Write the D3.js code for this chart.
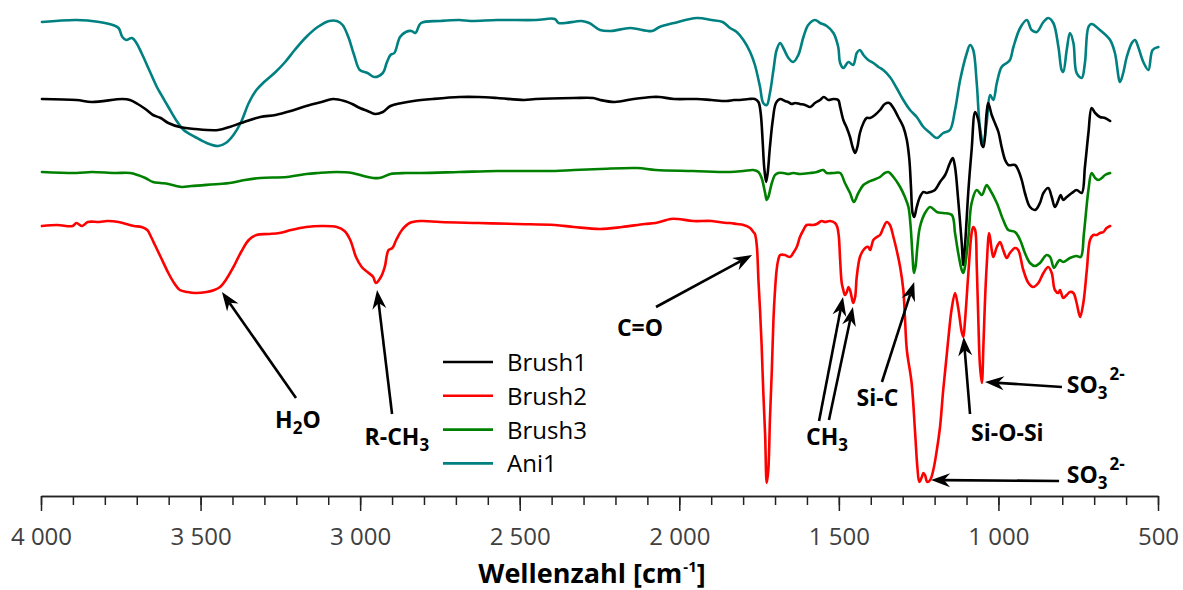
<!DOCTYPE html>
<html><head><meta charset="utf-8">
<script src="https://cdn.jsdelivr.net/npm/d3@7"></script>
<style>body{margin:0;background:#fff}svg{display:block}</style>
</head><body>
<svg id="chart" width="1183" height="590"></svg>
<script>
// ---- data: [wavenumber cm-1, transmittance (a.u., offset)] ----
const ani1 = [[3997,474],[3889,476],[3817,474],[3775,471],[3757,468],[3745,459],[3733,456],[3715,458],[3703,454],[3685,443],[3661,426],[3637,409],[3619,399],[3601,389],[3577,376],[3553,366],[3517,359],[3481,353],[3445,350],[3421,353],[3397,361],[3373,374],[3349,393],[3325,406],[3301,414],[3265,424],[3235,434],[3205,446],[3169,459],[3133,469],[3097,475],[3073,475],[3055,471],[3037,459],[3019,441],[3001,426],[2977,423],[2956,419],[2929,423],[2917,433],[2905,441],[2893,443],[2875,459],[2857,464],[2839,465],[2827,463],[2809,473],[2749,475],[2689,476],[2654,475],[2570,476],[2450,476],[2390,477],[2378,473],[2306,475],[2282,473],[2248,466],[2214,465],[2154,468],[2085,465],[2062,469],[2016,473],[1945,478],[1899,476],[1864,474],[1841,468],[1820,464],[1799,456],[1778,444],[1763,431],[1747,409],[1737,393],[1726,391],[1716,403],[1705,426],[1695,446],[1684,453],[1674,448],[1658,438],[1643,434],[1627,441],[1611,459],[1596,471],[1575,476],[1559,473],[1538,470],[1517,463],[1502,449],[1496,433],[1486,428],[1470,434],[1455,431],[1444,443],[1434,446],[1423,441],[1408,436],[1392,433],[1376,429],[1361,426],[1340,419],[1319,408],[1298,396],[1277,386],[1256,379],[1235,369],[1214,363],[1193,358],[1173,363],[1152,366],[1136,386],[1120,416],[1099,443],[1089,451],[1079,446],[1068,413],[1058,369],[1047,353],[1037,373],[1026,401],[1016,396],[1005,413],[990,429],[974,433],[964,436],[953,449],[932,468],[911,476],[896,466],[880,464],[859,474],[844,478],[828,473],[812,449],[802,426],[797,424],[786,446],[776,463],[765,453],[755,423],[739,418],[729,433],[718,469],[708,472],[682,466],[650,456],[635,443],[619,414],[609,423],[598,439],[582,453],[572,456],[562,449],[546,434],[530,426],[517,446],[499,449]];

const brush1 = [[3997,397],[3889,396],[3841,394],[3745,397],[3721,396],[3697,392],[3673,387],[3649,381],[3625,378],[3601,373],[3565,369],[3517,367],[3445,366],[3409,369],[3373,373],[3313,379],[3265,381],[3217,385],[3169,390],[3121,394],[3085,397],[3049,395],[3025,392],[3001,388],[2977,385],[2953,382],[2929,384],[2905,390],[2869,393],[2833,395],[2773,397],[2689,399],[2629,399],[2570,398],[2486,396],[2450,397],[2330,398],[2270,398],[2248,396],[2202,394],[2143,397],[2085,399],[2062,399],[2016,397],[1945,397],[1899,396],[1852,395],[1829,396],[1810,396],[1782,397],[1763,397],[1752,394],[1745,383],[1739,356],[1734,329],[1728,314],[1723,323],[1716,349],[1707,376],[1697,393],[1684,397],[1669,395],[1659,394],[1648,392],[1637,393],[1622,392],[1606,391],[1590,389],[1575,393],[1559,396],[1547,399],[1533,396],[1517,397],[1502,396],[1496,389],[1486,376],[1475,368],[1465,359],[1457,349],[1449,343],[1442,349],[1434,363],[1423,373],[1413,378],[1402,378],[1387,381],[1371,386],[1356,392],[1342,393],[1329,388],[1314,379],[1298,369],[1287,356],[1279,336],[1274,309],[1269,283],[1264,279],[1256,289],[1246,299],[1235,304],[1225,303],[1214,304],[1199,306],[1183,314],[1167,321],[1152,333],[1143,338],[1136,329],[1126,296],[1115,253],[1110,231],[1105,249],[1094,306],[1084,346],[1073,384],[1063,376],[1052,351],[1047,349],[1037,383],[1032,393],[1021,381],[1011,373],[1000,364],[990,349],[979,336],[969,331],[948,331],[938,326],[927,316],[917,303],[901,289],[885,286],[870,293],[859,303],[844,308],[833,299],[823,289],[812,296],[805,301],[797,296],[786,299],[770,303],[755,306],[739,303],[729,329],[718,363],[708,388],[697,383],[682,379],[666,378],[650,375]];

const brush3 = [[3997,324],[3889,323],[3841,324],[3769,323],[3721,323],[3697,321],[3673,318],[3649,314],[3625,313],[3601,312],[3559,309],[3529,310],[3445,312],[3409,313],[3361,316],[3313,318],[3229,319],[3169,322],[3133,323],[3073,324],[3025,323],[2989,320],[2959,318],[2941,318],[2929,319],[2905,322],[2857,323],[2809,323],[2689,324],[2570,325],[2450,325],[2390,325],[2330,326],[2248,327],[2132,328],[2074,326],[1957,325],[1841,324],[1799,325],[1768,326],[1752,324],[1742,318],[1731,303],[1726,296],[1721,299],[1710,313],[1700,321],[1690,323],[1674,323],[1658,322],[1643,323],[1622,322],[1590,323],[1569,324],[1549,326],[1538,323],[1517,323],[1496,323],[1481,313],[1465,303],[1453,294],[1439,303],[1423,311],[1408,314],[1392,316],[1371,319],[1356,323],[1345,324],[1329,319],[1308,309],[1293,299],[1282,289],[1275,269],[1269,239],[1265,223],[1260,229],[1254,249],[1246,269],[1230,283],[1214,289],[1193,284],[1173,283],[1146,281],[1136,263],[1126,243],[1115,226],[1110,223],[1105,229],[1094,259],[1084,293],[1068,306],[1052,301],[1037,311],[1026,306],[1005,293],[985,276],[969,266],[948,264],[932,256],[917,243],[901,233],[885,230],[870,233],[849,241],[838,239],[826,228],[816,233],[808,236],[797,234],[776,238],[755,240],[742,239],[732,263],[718,306],[708,323],[697,318],[687,316],[676,318],[666,321],[650,323]];

const brush2 = [[3997,270],[3949,271],[3901,270],[3889,273],[3871,270],[3853,274],[3817,274],[3793,275],[3757,274],[3733,272],[3709,270],[3685,269],[3667,266],[3655,259],[3643,251],[3625,239],[3601,223],[3583,213],[3565,206],[3541,204],[3517,203],[3481,204],[3457,206],[3439,209],[3421,216],[3397,229],[3373,244],[3349,256],[3325,261],[3289,262],[3253,263],[3217,266],[3169,269],[3121,270],[3073,269],[3049,265],[3031,256],[3013,239],[2995,229],[2977,224],[2959,219],[2951,213],[2935,219],[2923,229],[2911,246],[2899,248],[2887,256],[2869,266],[2845,273],[2809,275],[2749,274],[2629,273],[2509,272],[2390,271],[2330,269],[2248,267],[2179,269],[2109,272],[2074,273],[2027,277],[2004,277],[1957,275],[1899,275],[1852,273],[1841,273],[1820,272],[1799,271],[1778,268],[1768,264],[1763,262],[1757,250],[1752,216],[1747,186],[1742,151],[1737,106],[1731,61],[1726,13],[1721,26],[1716,76],[1710,126],[1705,176],[1700,206],[1695,226],[1690,236],[1684,241],[1669,241],[1653,239],[1643,243],[1632,249],[1622,259],[1611,266],[1601,271],[1580,271],[1569,272],[1554,275],[1543,274],[1528,275],[1512,273],[1505,269],[1500,259],[1496,236],[1491,213],[1486,206],[1481,201],[1475,204],[1470,209],[1465,206],[1460,199],[1455,193],[1449,199],[1444,219],[1434,239],[1423,246],[1413,249],[1408,249],[1402,246],[1392,256],[1381,259],[1371,261],[1361,268],[1350,274],[1340,271],[1329,259],[1319,246],[1308,229],[1298,206],[1293,179],[1287,146],[1272,113],[1261,63],[1254,29],[1248,14],[1240,19],[1235,23],[1230,21],[1223,14],[1214,16],[1204,26],[1193,46],[1183,69],[1173,106],[1162,141],[1152,173],[1147,186],[1136,203],[1126,188],[1115,164],[1110,159],[1105,174],[1094,224],[1084,263],[1079,269],[1073,266],[1068,231],[1063,176],[1058,131],[1052,113],[1047,151],[1042,196],[1037,229],[1029,263],[1021,246],[1016,239],[1005,249],[995,254],[985,246],[974,238],[964,243],[948,248],[938,246],[922,226],[906,213],[891,209],[875,213],[859,223],[844,229],[833,223],[823,206],[812,203],[807,206],[797,198],[786,201],[776,204],[765,203],[755,193],[744,179],[734,193],[723,226],[713,256],[703,261],[692,261],[682,263],[671,264],[661,268],[650,270]];

const seriesNames = ["Brush1","Brush2","Brush3","Ani1"];
const seriesColors = ["#000000","#ff0000","#008000","#008080"];
const seriesData = [brush1, brush2, brush3, ani1];
const drawOrder = [3, 0, 2, 1]; // teal first, red on top

const majorTicks = [4000,3500,3000,2500,2000,1500,1000,500];
const minorTicks = d3.range(4000, 499, -100);

// annotations (data coordinates): label parts, label position, arrow tails/tips
const annotations = [
  {parts:[["H"],["2","sub"],["O"]], at:[3195,68], anchor:"middle", arrows:[[[3201,98],[3433,204]]]},
  {parts:[["R-CH"],["3","sub"]], at:[2885,51], anchor:"middle", arrows:[[[2900,82],[2947,206]]]},
  {parts:[["C=O"]], at:[2123,160], anchor:"middle", arrows:[[[2073,189],[1772,241]]]},
  {parts:[["CH"],["3","sub"]], at:[1537,51], anchor:"middle", arrows:[[[1562,75],[1487,199]],[[1531,76],[1456,189]]]},
  {parts:[["Si-C"]], at:[1379,90], anchor:"middle", arrows:[[[1365,114],[1264,214]]]},
  {parts:[["Si-O-Si"]], at:[972,55], anchor:"middle", arrows:[[[1089,82],[1109,159]]]},
  {parts:[["SO"],["3","sub"],["2-","sup"]], at:[786,103], anchor:"start", arrows:[[[801,109],[1042,114]]]},
  {parts:[["SO"],["3","sub"],["2-","sup"]], at:[786,13], anchor:"start", arrows:[[[810,15],[1211,16]]]}
];

// ---- chart ----
const svg = d3.select("#chart");
const FONT = "'Open Sans', 'Noto Sans', 'DejaVu Sans', sans-serif";
const x = d3.scaleLinear().domain([4000, 500]).range([41, 1158]);
const y = d3.scaleLinear().domain([0, 496]).range([496, 0]);

const line = d3.line().x(d => x(d[0])).y(d => y(d[1])).curve(d3.curveCatmullRom.alpha(0.5));

drawOrder.forEach(i => {
  svg.append("path").datum(seriesData[i])
    .attr("fill","none").attr("stroke",seriesColors[i])
    .attr("stroke-width",2.6).attr("stroke-linejoin","round").attr("stroke-linecap","round")
    .attr("d", line);
});

// axis
const loc = d3.formatLocale({decimal:",", thousands:"\u2009", grouping:[3], currency:["",""]});
const fmt = v => loc.format(",")(v).replace("\u2009"," ");
const minorAxis = d3.axisBottom(x).tickValues(minorTicks).tickSize(9).tickSizeOuter(0).tickFormat("");
const majorAxis = d3.axisBottom(x).tickValues(majorTicks).tickSize(15).tickSizeOuter(0).tickPadding(17).tickFormat(fmt);
const gMinor = svg.append("g").attr("transform","translate(0,496)").call(minorAxis);
const gMajor = svg.append("g").attr("transform","translate(0,496)").call(majorAxis);
[gMinor,gMajor].forEach(g => {
  g.selectAll("path.domain").attr("stroke","#222").attr("stroke-width",1.5);
  g.selectAll(".tick line").attr("stroke","#222").attr("stroke-width",1.5);
});
gMajor.selectAll(".tick text").attr("font-family",FONT).attr("font-size",24).attr("fill","#404040");

const title = svg.append("text").attr("x",592).attr("y",583).attr("text-anchor","middle")
  .attr("font-family",FONT).attr("font-size",27).attr("font-weight","bold").attr("fill","#000");
title.append("tspan").text("Wellenzahl [cm");
title.append("tspan").attr("font-size",15).attr("dy",-11).attr("dx",1).text("-1");
title.append("tspan").attr("dy",11).text("]");

// annotations
function arrow(tail, tip) {
  const t0=[x(tail[0]),y(tail[1])], t1=[x(tip[0]),y(tip[1])];
  const dx=t1[0]-t0[0], dy=t1[1]-t0[1], len=Math.hypot(dx,dy), ux=dx/len, uy=dy/len;
  const L=19, Wd=7, N=13;
  const bx=t1[0]-ux*L, by=t1[1]-uy*L, nx=t1[0]-ux*N, ny=t1[1]-uy*N;
  svg.append("line").attr("x1",t0[0]).attr("y1",t0[1]).attr("x2",nx).attr("y2",ny)
    .attr("stroke","#000").attr("stroke-width",2.6);
  svg.append("path").attr("fill","#000")
    .attr("d",`M${t1[0]},${t1[1]}L${bx-uy*Wd},${by+ux*Wd}L${nx},${ny}L${bx+uy*Wd},${by-ux*Wd}Z`);
}
annotations.forEach(a => {
  a.arrows.forEach(ar => arrow(ar[0], ar[1]));
  const fs = 23;
  const t = svg.append("text").attr("x",x(a.at[0])).attr("y",y(a.at[1]))
    .attr("text-anchor",a.anchor).attr("font-family",FONT).attr("font-size",fs)
    .attr("font-weight","bold").attr("fill","#000");
  let cur = 0;
  a.parts.forEach(p => {
    const want = p[1]==="sub" ? 6 : p[1]==="sup" ? -13 : 0;
    const ts = t.append("tspan").attr("dy", want-cur).text(p[0]);
    if (p[1]) ts.attr("font-size", 17);
    if (p[1]==="sup") ts.attr("dx", 2);
    cur = want;
  });
});

// legend
const leg = svg.append("g");
seriesNames.forEach((n,i) => {
  const yy = 362 + i*33.8;
  leg.append("line").attr("x1",443).attr("x2",493).attr("y1",yy).attr("y2",yy)
    .attr("stroke",seriesColors[i]).attr("stroke-width",2.6);
  leg.append("text").attr("x",507).attr("y",yy+9).attr("font-family",FONT)
    .attr("font-size",24).attr("fill","#000").text(n);
});
</script>
</body></html>
